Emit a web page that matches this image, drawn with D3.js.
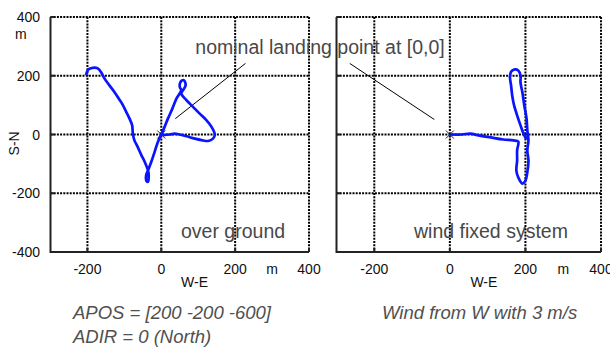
<!DOCTYPE html>
<html>
<head>
<meta charset="utf-8">
<script src="https://cdn.jsdelivr.net/npm/d3@7"></script>
<style>
  body { margin: 0; background: #fff; }
  svg { display: block; font-family: "Liberation Sans", Arial, sans-serif; }
</style>
</head>
<body>
<div id="chart"></div>
<script>
// track over ground [W-E, S-N] in m
const groundX = [-204, -197, -186, -172, -161, -154, -141, -127, -115, -104, -95, -86, -79, -77, -73, -64, -54, -45, -36, -34, -36, -41, -41, -36, -27, -18, -9, 0, 9, 18, 30, 41, 50, 54, 50, 52, 61, 66, 59, 54, 68, 86, 104, 122, 136, 145, 140, 127, 109, 91, 68, 50, 36, 23, 4];
const groundY = [202, 222, 227, 225, 208, 191, 168, 145, 122, 100, 77, 54, 32, 3, -19, -42, -70, -93, -122, -139, -161, -156, -139, -122, -93, -59, -25, 0, 26, 54, 88, 122, 140, 151, 162, 179, 185, 168, 151, 140, 117, 94, 71, 49, 26, 0, -14, -22, -19, -14, -6, 0, 3, 0, -2];

// track in the wind fixed system
const windX = [0, 32, 54, 76, 108, 141, 168, 181, 178, 178, 176, 181, 192, 200, 205, 208, 205, 208, 205, 203, 197, 192, 187, 187, 181, 170, 162, 159, 162, 165, 170, 178, 187, 195, 203];
const windY = [0, 0, 3, -3, -10, -17, -20, -24, -54, -89, -123, -146, -167, -157, -129, -89, -54, -20, 14, 54, 99, 143, 177, 201, 218, 221, 214, 197, 167, 133, 99, 65, 31, 3, -17];

const gridTicks = [-200, 0, 200];
const xLabels = [-200, 0, 200, 400];
const yLabels = [400, 200, 0, -200, -400];

const width = 610, height = 347;
const svg = d3.select('#chart').append('svg')
  .attr('width', width)
  .attr('height', height);

const y = d3.scaleLinear().domain([-400, 400]).range([252, 17]);
const xLeft = d3.scaleLinear().domain([-300, 400]).range([50.5, 309]);
const xRight = d3.scaleLinear().domain([-300, 400]).range([336.5, 601]);

const line = (x) => d3.line()
  .x(d => x(d[0]))
  .y(d => y(d[1]));

function drawPanel(x, xs, ys, leader, label, showY) {
  const g = svg.append('g');

  // dotted grid + top/right border
  const dots = g.append('g')
    .attr('stroke', '#000')
    .attr('stroke-width', 2)
    .attr('stroke-dasharray', '2,1.2')
    .attr('fill', 'none');
  dots.selectAll('.vg').data(gridTicks.concat([400])).join('line')
    .attr('x1', d => x(d)).attr('x2', d => x(d))
    .attr('y1', y(400)).attr('y2', y(-400));
  dots.selectAll('.hg').data(gridTicks.concat([400])).join('line')
    .attr('y1', d => y(d)).attr('y2', d => y(d))
    .attr('x1', x(-300)).attr('x2', x(400));

  // solid left and bottom axes
  g.append('path')
    .attr('d', `M${x(-300)},${y(400)}V${y(-400)}H${x(400)}`)
    .attr('fill', 'none')
    .attr('stroke', '#222')
    .attr('stroke-width', 2);
  g.selectAll('.tx').data(xLabels).join('line')
    .attr('x1', d => x(d)).attr('x2', d => x(d))
    .attr('y1', y(-400)).attr('y2', y(-400) - 4)
    .attr('stroke', '#222').attr('stroke-width', 2);
  g.selectAll('.ty').data(yLabels).join('line')
    .attr('x1', x(-300)).attr('x2', x(-300) + 4)
    .attr('y1', d => y(d)).attr('y2', d => y(d))
    .attr('stroke', '#222').attr('stroke-width', 2);

  // tick labels
  g.selectAll('.xl').data(xLabels).join('text')
    .attr('x', d => x(d))
    .attr('y', 274)
    .attr('text-anchor', 'middle')
    .attr('font-size', 14)
    .attr('fill', '#111')
    .text(d => d);
  g.append('text')
    .attr('x', x(300)).attr('y', 274)
    .attr('text-anchor', 'middle')
    .attr('font-size', 14).attr('fill', '#111')
    .text('m');
  g.append('text')
    .attr('x', x(90)).attr('y', 287)
    .attr('text-anchor', 'middle')
    .attr('font-size', 14).attr('fill', '#111')
    .text('W-E');

  if (showY) {
    g.selectAll('.yl').data(yLabels).join('text')
      .attr('x', 40)
      .attr('y', d => y(d) + 5)
      .attr('text-anchor', 'end')
      .attr('font-size', 14)
      .attr('fill', '#111')
      .text(d => d);
    g.append('text')
      .attr('x', 15).attr('y', 39)
      .attr('font-size', 14).attr('fill', '#111')
      .text('m');
    g.append('text')
      .attr('transform', `translate(19,${y(-30)}) rotate(-90)`)
      .attr('text-anchor', 'middle')
      .attr('font-size', 14).attr('fill', '#111')
      .text('S-N');
  }

  // leader line to the landing point
  g.append('line')
    .attr('x1', x(leader[0])).attr('y1', y(leader[1]))
    .attr('x2', x(leader[2])).attr('y2', y(leader[3]))
    .attr('stroke', '#000').attr('stroke-width', 1);

  // landing point cross
  g.append('path')
    .attr('d', `M${x(0) - 4},${y(0) - 4}l8,8M${x(0) - 4},${y(0) + 4}l8,-8`)
    .attr('stroke', '#222').attr('stroke-width', 1);

  // track
  g.append('path')
    .datum(xs.map((v, i) => [v, ys[i]]))
    .attr('d', line(x).curve(d3.curveCatmullRom))
    .attr('fill', 'none')
    .attr('stroke', '#0a14ff')
    .attr('stroke-width', 2.7)
    .attr('stroke-linejoin', 'round');

  g.append('text')
    .attr('x', label[1]).attr('y', 238)
    .attr('font-size', 19.5).attr('fill', '#484848')
    .text(label[0]);
}

drawPanel(xLeft, groundX, groundY, [38, 54, 228, 242], ['over ground', 181], true);
drawPanel(xRight, windX, windY, [-265, 242, -41, 51], ['wind fixed system', 414], false);

svg.append('text')
  .attr('x', 320).attr('y', 54)
  .attr('text-anchor', 'middle')
  .attr('font-size', 19.5).attr('fill', '#484848')
  .text('nominal landing point at [0,0]');

const captions = [
  { x: 73, y: 319, t: 'APOS = [200 -200 -600]' },
  { x: 73, y: 343, t: 'ADIR = 0 (North)' },
  { x: 382, y: 319, t: 'Wind from W with 3 m/s' }
];
svg.selectAll('.cap').data(captions).join('text')
  .attr('x', d => d.x).attr('y', d => d.y)
  .attr('font-size', 18.5)
  .attr('font-style', 'italic')
  .attr('fill', '#505050')
  .text(d => d.t);
</script>
</body>
</html>
